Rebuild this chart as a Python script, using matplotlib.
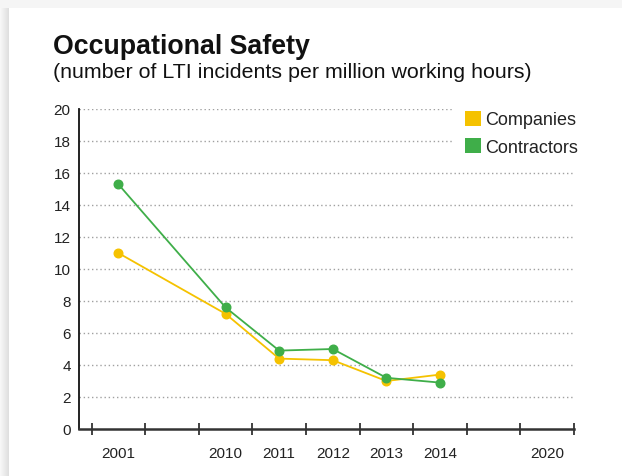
import matplotlib
matplotlib.use("Agg")
import matplotlib.pyplot as plt
from matplotlib.patches import Rectangle, Patch
import numpy as np

# ---- data ----
slot_labels = ["2001", "", "2010", "2011", "2012", "2013", "2014", "", "2020"]
years = ["2001", "2010", "2011", "2012", "2013", "2014"]
companies = [11.0, 7.2, 4.4, 4.3, 3.0, 3.4]
contractors = [15.3, 7.6, 4.9, 5.0, 3.2, 2.9]
y_ticks = [0, 2, 4, 6, 8, 10, 12, 14, 16, 18, 20]

title = "Occupational Safety"
subtitle = "(number of LTI incidents per million working hours)"

YELLOW = "#F5C200"
GREEN = "#3FAE49"

plt.rcParams["font.family"] = ["Liberation Sans", "DejaVu Sans"]

W, H = 622, 477
fig = plt.figure(figsize=(W / 100, H / 100), dpi=100)
fig.patch.set_facecolor("#f5f5f5")

def px(x, y):
    return x / W, 1 - y / H

# left shadow gradient
for i in range(9):
    g = 0.97 - 0.012 * i
    fig.patches.append(Rectangle((i / W, 0), 1 / W, 1 - 9 / H,
                                 transform=fig.transFigure, facecolor=str(g),
                                 edgecolor="none", zorder=-2))
# white card
fig.patches.append(Rectangle((8.5 / W, 0), 1, 1 - 9 / H, transform=fig.transFigure,
                             facecolor="white", edgecolor="none", zorder=-1))

left, right, bottom, top = 79, 574, 430, 110
ax = fig.add_axes([left / W, 1 - bottom / H, (right - left) / W, (bottom - top) / H])
ax.set_facecolor("none")

xpos = [slot_labels.index(y) for y in years]

ax.plot(xpos, companies, color=YELLOW, lw=1.3, marker="o", ms=6.2, mec=YELLOW, zorder=3)
ax.plot(xpos, contractors, color=GREEN, lw=1.3, marker="o", ms=6.2, mec=GREEN, zorder=4)

ax.set_xlim(-0.5 - 12.5 / 53.6, len(slot_labels) - 0.5)
ax.set_ylim(0, 20)

# y axis
ax.set_yticks(y_ticks)
ax.set_yticklabels([str(v) for v in y_ticks], fontsize=11, color="#222222")
ax.tick_params(axis="y", length=0, pad=6)
for v in y_ticks[1:]:
    ax.axhline(v, color="#a0a0a0", lw=1.0, ls=(0, (1, 2)), zorder=1)

# x axis: major ticks at boundaries, labels at centers
ax.set_xticks(np.arange(len(slot_labels) + 1) - 0.5)
ax.set_xticklabels([])
ax.set_xticks(np.arange(len(slot_labels)), minor=True)
ax.set_xticklabels(slot_labels, minor=True, fontsize=11, color="#222222")
ax.tick_params(axis="x", which="major", direction="inout", length=8, width=1.3, color="#333333")
ax.tick_params(axis="x", which="minor", length=0, pad=12)

for s in ["top", "right"]:
    ax.spines[s].set_visible(False)
ax.spines["left"].set_color("#111111")
ax.spines["left"].set_linewidth(1.3)
ax.spines["bottom"].set_color("#333333")
ax.spines["bottom"].set_linewidth(1.8)

# legend
handles = [Patch(facecolor=YELLOW, edgecolor="none", label="Companies"),
           Patch(facecolor=GREEN, edgecolor="none", label="Contractors")]
leg = ax.legend(handles=handles, loc="upper left", bbox_to_anchor=px(454, 101),
                bbox_transform=fig.transFigure, fontsize=13, frameon=True,
                fancybox=False, edgecolor="none", facecolor="white", framealpha=1,
                handlelength=0.88, handleheight=0.88, handletextpad=0.25,
                borderpad=0.6, labelspacing=0.55, borderaxespad=0)
for t in leg.get_texts():
    t.set_color("#222222")

# titles
fig.text(*px(53, 54.5), title, fontsize=19.3, fontweight="bold", color="#111111",
         ha="left", va="baseline")
fig.text(*px(53, 78), subtitle, fontsize=15.4, color="#111111",
         ha="left", va="baseline")

fig.savefig("out.png", dpi=100, facecolor=fig.get_facecolor())
